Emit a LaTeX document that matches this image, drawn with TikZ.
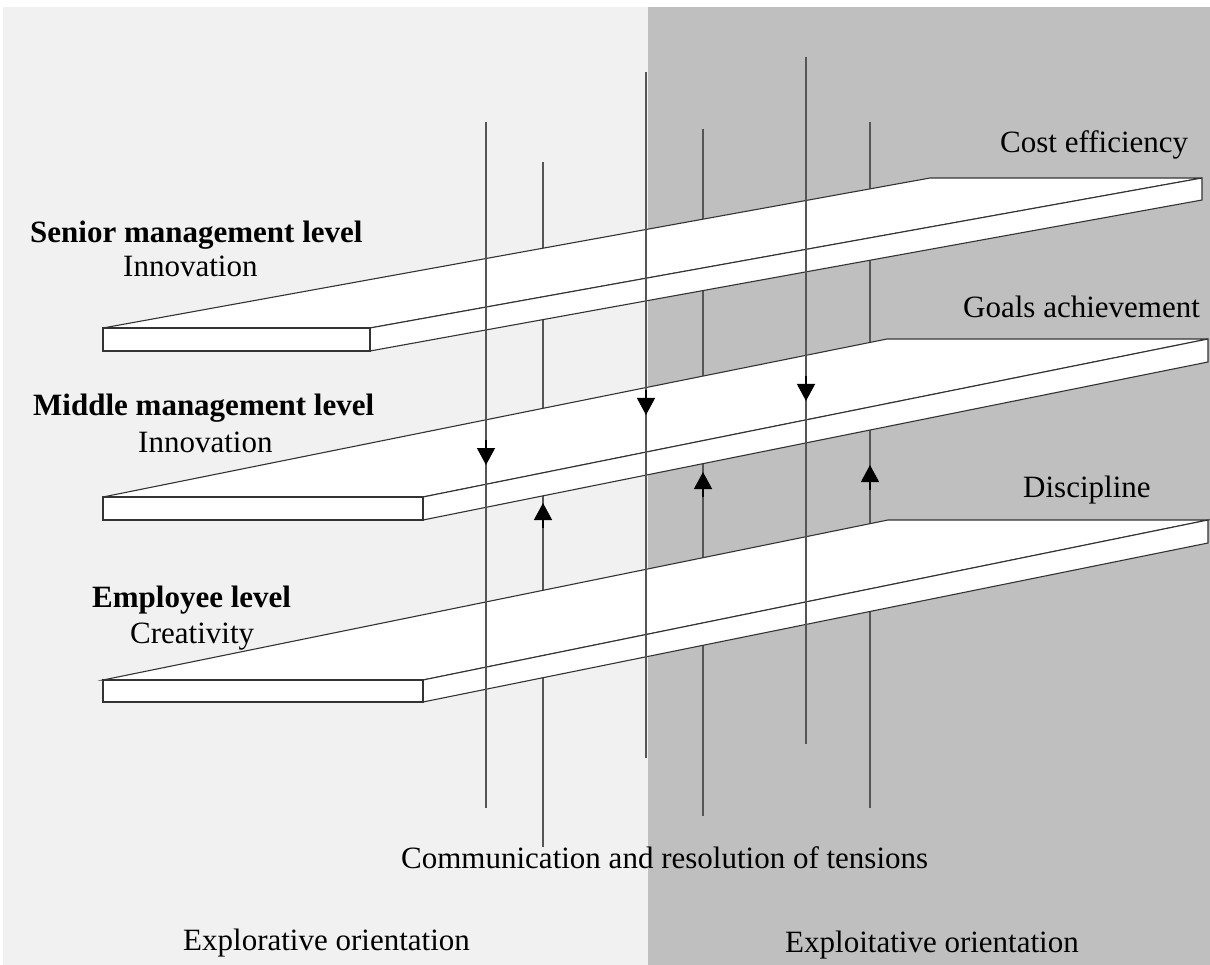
\documentclass[tikz,border=0pt]{standalone}
\usepackage{fontspec}
\setmainfont{Liberation Serif}
\usetikzlibrary{arrows.meta}
\definecolor{leftbg}{HTML}{F1F1F1}
\definecolor{rightbg}{HTML}{BFBFBF}
\definecolor{edge}{HTML}{333333}
\definecolor{rod}{HTML}{555555}
\begin{document}
\begin{tikzpicture}[x=1pt,y=-1pt,
  slabface/.style={fill=white,draw=edge,line width=1.1pt,line join=miter},
  rodline/.style={draw=rod,line width=1.3pt},
  tipline/.style={draw=black,line width=1.3pt,-{Triangle[length=17pt,width=18pt]}},
  lbl/.style={inner sep=0pt,anchor=base west,font=\fontsize{31}{37}\selectfont}]
\useasboundingbox (0,0) rectangle (1210,965);
% backgrounds
\fill[leftbg] (3,7) rectangle (648,965);
\fill[rightbg] (648,7) rectangle (1210,965);
% rod end points
\coordinate (r1t) at (486,122); \coordinate (r1b) at (486,808); \coordinate (r1a) at (486,440); \coordinate (r1h) at (486,465);
\coordinate (r2t) at (543,162); \coordinate (r2b) at (543,847); \coordinate (r2a) at (543,528); \coordinate (r2h) at (543,503);
\coordinate (r3t) at (646,72);  \coordinate (r3b) at (646,758); \coordinate (r3a) at (646,390); \coordinate (r3h) at (646,415);
\coordinate (r4t) at (703,129); \coordinate (r4b) at (816,816); \coordinate (r4a) at (703,497); \coordinate (r4h) at (703,472);
\coordinate (r5t) at (806,57);  \coordinate (r5b) at (806,744); \coordinate (r5a) at (806,376); \coordinate (r5h) at (806,401);
\coordinate (r6t) at (870,122); \coordinate (r6b) at (870,808); \coordinate (r6a) at (870,490); \coordinate (r6h) at (870,465);
\coordinate (r4b) at (703,816);
% rods behind the slabs (upward)
\draw[rodline] (r2t) -- (r2b);
\draw[rodline] (r4t) -- (r4b);
\draw[rodline] (r6t) -- (r6b);
\draw[tipline] (r2a) -- (r2h);
\draw[tipline] (r4a) -- (r4h);
\draw[tipline] (r6a) -- (r6h);
% slab 1
\coordinate (s1a) at (103,328); \coordinate (s1b) at (370,328); \coordinate (s1c) at (1202,178); \coordinate (s1d) at (930,178);
\coordinate (s1e) at (1202,200); \coordinate (s1f) at (370,351); \coordinate (s1g) at (103,351);
\draw[slabface] (s1a) -- (s1b) -- (s1c) -- (s1d) -- cycle;
\draw[slabface] (s1b) -- (s1c) -- (s1e) -- (s1f) -- cycle;
\draw[slabface] (s1a) -- (s1b) -- (s1f) -- (s1g) -- cycle;
% slab 2
\coordinate (s2a) at (103,497); \coordinate (s2b) at (423,497); \coordinate (s2c) at (1208,339); \coordinate (s2d) at (887,339);
\coordinate (s2e) at (1208,362); \coordinate (s2f) at (423,520); \coordinate (s2g) at (103,520);
\draw[slabface] (s2a) -- (s2b) -- (s2c) -- (s2d) -- cycle;
\draw[slabface] (s2b) -- (s2c) -- (s2e) -- (s2f) -- cycle;
\draw[slabface] (s2a) -- (s2b) -- (s2f) -- (s2g) -- cycle;
% slab 3
\coordinate (s3a) at (103,680); \coordinate (s3b) at (423,680); \coordinate (s3c) at (1208,520); \coordinate (s3d) at (888,520);
\coordinate (s3e) at (1208,543); \coordinate (s3f) at (423,702); \coordinate (s3g) at (103,702);
\draw[slabface] (s3a) -- (s3b) -- (s3c) -- (s3d) -- cycle;
\draw[slabface] (s3b) -- (s3c) -- (s3e) -- (s3f) -- cycle;
\draw[slabface] (s3a) -- (s3b) -- (s3f) -- (s3g) -- cycle;
% rods in front (downward)
\draw[rodline] (r1t) -- (r1b);
\draw[rodline] (r3t) -- (r3b);
\draw[rodline] (r5t) -- (r5b);
\draw[tipline] (r1a) -- (r1h);
\draw[tipline] (r3a) -- (r3h);
\draw[tipline] (r5a) -- (r5h);
% labels
\node[lbl] (senior) at (30,243) {\textbf{Senior management level}};
\node[lbl] (innov1) at (123,277) {Innovation};
\node[lbl] (middle) at (33,415) {\textbf{Middle management level}};
\node[lbl] (innov2) at (138,452) {Innovation};
\node[lbl] (employee) at (92,607) {\textbf{Employee level}};
\node[lbl] (creat) at (130,643) {Creativity};
\node[lbl] (cost) at (1000,153) {Cost efficiency};
\node[lbl] (goals) at (963,318) {Goals achievement};
\node[lbl] (disc) at (1023,497) {Discipline};
\node[lbl] (comm) at (401,868) {Communication and resolution of tensions};
\node[lbl] (explor) at (183,950) {Explorative orientation};
\node[lbl] (exploit) at (785,952) {Exploitative orientation};
\end{tikzpicture}
\end{document}
